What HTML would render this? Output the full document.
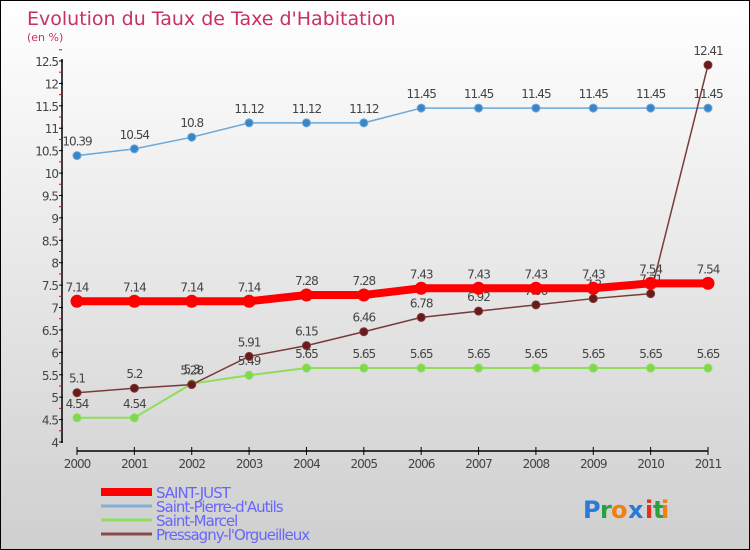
<!DOCTYPE html>
<html><head><meta charset="utf-8"><style>
body{margin:0}
#c{width:750px;height:550px;position:relative;box-sizing:border-box;border:1px solid #000;background:linear-gradient(#ffffff,#cfcfcf);font-family:"DejaVu Sans","Liberation Sans",sans-serif;overflow:hidden}
</style></head><body>
<div id="c">
<svg id="s" width="750" height="550" style="position:absolute;left:0;top:0"></svg>
</div>
<script>
const years=[2000,2001,2002,2003,2004,2005,2006,2007,2008,2009,2010,2011];
const saintJust=[7.14,7.14,7.14,7.14,7.28,7.28,7.43,7.43,7.43,7.43,7.54,7.54];
const saintPierre=[10.39,10.54,10.8,11.12,11.12,11.12,11.45,11.45,11.45,11.45,11.45,11.45];
const saintMarcel=[4.54,4.54,5.3,5.49,5.65,5.65,5.65,5.65,5.65,5.65,5.65,5.65];
const pressagny=[5.1,5.2,5.28,5.91,6.15,6.46,6.78,6.92,7.06,7.2,7.31,12.41];
const yTicks=[4,4.5,5,5.5,6,6.5,7,7.5,8,8.5,9,9.5,10,10.5,11,11.5,12,12.5];
const seriesNames=["SAINT-JUST","Saint-Pierre-d'Autils","Saint-Marcel","Pressagny-l'Orgueilleux"];

const NS="http://www.w3.org/2000/svg",svg=document.getElementById('s');
const X=i=>76+i*(707-76)/11;
const Y=v=>441-(v-4)*(441-60)/8.5;
function el(t,a,p){const e=document.createElementNS(NS,t);for(const k in a)e.setAttribute(k,a[k]);(p||svg).appendChild(e);return e;}
function tx(x,y,s,a){const e=el('text',Object.assign({x:x,y:y},a));e.textContent=s;return e;}

let t=tx(26,24,'Evolution du Taux de Taxe d\'Habitation',{fill:'#c8305f','font-size':19});

t=tx(26,40,'(en %)',{fill:'#c8305f','font-size':11});


// y axis
let ax=el('line',{x1:61,y1:58,x2:61,y2:442,stroke:'#000','stroke-width':1.5});

yTicks.forEach(v=>{el('line',{x1:58,y1:Y(v),x2:62,y2:Y(v),stroke:'#000'});
 el('line',{x1:58,y1:Y(v+0.25),x2:61,y2:Y(v+0.25),stroke:'#e00'});
 const l=tx(57,Y(v)+5,String(v),{'text-anchor':'end','font-size':12,fill:'#444','letter-spacing':'-1'});
 });
// x axis
ax=el('line',{x1:X(0),y1:450,x2:X(11),y2:450,stroke:'#000','stroke-width':1.5});

years.forEach((y,i)=>{el('line',{x1:X(i),y1:446,x2:X(i),y2:454,stroke:'#000'});
 const l=tx(X(i),467,String(y),{'text-anchor':'middle','font-size':12,fill:'#444','letter-spacing':'-1'});
 });

function series(vals,col,w,r,dot,name){
 const g=el('g',{});
 el('polyline',{points:vals.map((v,i)=>X(i)+','+Y(v)).join(' '),fill:'none',stroke:col,'stroke-width':w},g);
 vals.forEach((v,i)=>{const c=el('circle',{cx:X(i),cy:Y(v),r:r,fill:dot,stroke:col,'stroke-width':1},g);
  
  tx(X(i),Y(v)-10,String(v),{'text-anchor':'middle','font-size':12,fill:'#444','letter-spacing':'-1'},g);});
}
series(saintPierre,'#6aa8d8',1.5,4,'#3a85c8','series-saint-pierre');
series(saintMarcel,'#8ede5a',2,4,'#80d850','series-saint-marcel');
series(pressagny,'#7a3a3a',1.5,4,'#6a1a1a','series-pressagny');
series(saintJust,'#ff0000',8,6,'#ff0000','series-saint-just');

const lc=['#ff0000','#80b0d8','#90e060','#8a4a4a'],lw=[8,3,3,3];
seriesNames.forEach((n,i)=>{const y=491+i*14;
 const g=el('g',{});
 el('line',{x1:100,y1:y,x2:151,y2:y,stroke:lc[i],'stroke-width':lw[i]},g);
 tx(155,y+6,n,{'font-size':15,fill:'#6666ff','letter-spacing':'-1'},g);});

const lg=el('g',{});
[['P','#2a7ad8'],['r','#2aa040'],['o','#f08010'],['x','#2a7ad8'],['i','#e03020'],['t','#2aa040'],['i','#f08010']].forEach((c,i)=>{
 tx(582+[0,17,28,45,62,70,78][i],517,c[0],{'font-size':24,'font-weight':'bold',fill:c[1]},lg);});
</script>
</body></html>
